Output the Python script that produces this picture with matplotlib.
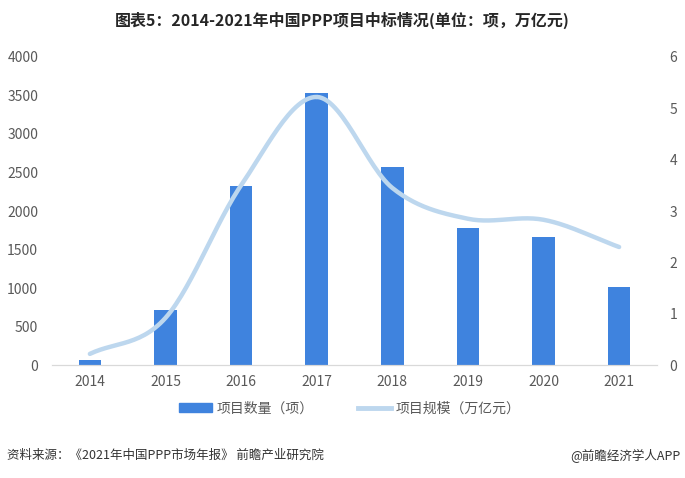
import numpy as np
import matplotlib.pyplot as plt
from matplotlib.lines import Line2D
from matplotlib.patches import Patch

plt.rcParams['font.family'] = ['Noto Sans CJK SC', 'DejaVu Sans']

# data
years = ["2014", "2015", "2016", "2017", "2018", "2019", "2020", "2021"]
counts = [65, 714, 2325, 3532, 2575, 1779, 1662, 1013]      # 项目数量（项）
scale = [0.22, 0.92, 3.5, 5.22, 3.45, 2.85, 2.83, 2.3]     # 项目规模（万亿元）

bar_color = "#3F83DE"
line_color = "#BDD7EE"
tick_color = "#595959"


def smooth(xs, ys, n=30):
    # Catmull-Rom curve through the points (like Excel's smoothed line)
    xs = np.asarray(xs, float)
    ys = np.asarray(ys, float)
    px = np.concatenate([[2 * xs[0] - xs[1]], xs, [2 * xs[-1] - xs[-2]]])
    py = np.concatenate([[2 * ys[0] - ys[1]], ys, [2 * ys[-1] - ys[-2]]])
    ox, oy = [], []
    t = np.linspace(0, 1, n)
    for i in range(1, len(px) - 2):
        for p, out in ((px, ox), (py, oy)):
            p0, p1, p2, p3 = p[i - 1], p[i], p[i + 1], p[i + 2]
            out.extend(0.5 * (2 * p1 + (-p0 + p2) * t
                              + (2 * p0 - 5 * p1 + 4 * p2 - p3) * t ** 2
                              + (-p0 + 3 * p1 - 3 * p2 + p3) * t ** 3))
    return np.array(ox), np.array(oy)


fig = plt.figure(figsize=(6.85, 4.78), dpi=100)
ax = fig.add_axes([0.076, 0.236, 0.883, 0.645])
x = np.arange(len(years))
ax.bar(x, counts, width=0.3, color=bar_color, zorder=2)
ax.set_xlim(-0.5, len(years) - 0.5)
ax.set_ylim(0, 4000)
ax.set_yticks(range(0, 4001, 500))
ax.set_xticks(x)
ax.set_xticklabels(years)

ax2 = ax.twinx()
sx, sy = smooth(x, scale)
ax2.plot(sx, sy, color=line_color, lw=3.2, solid_capstyle="round", zorder=3)
ax2.set_ylim(0, 6)
ax2.set_yticks(range(0, 7))

for a in (ax, ax2):
    for s in ("top", "left", "right"):
        a.spines[s].set_visible(False)
    a.spines["bottom"].set_color("#D9D9D9")
    a.tick_params(length=0, colors=tick_color, labelsize=10)
ax.tick_params(axis="y", pad=10)
ax2.tick_params(axis="y", pad=9)
ax.tick_params(axis="x", pad=7)

fig.text(0.5, 0.957, "图表5：2014-2021年中国PPP项目中标情况(单位：项，万亿元)",
         ha="center", va="center", fontsize=11.5, fontweight="bold", color="#262626")

handles = [Patch(color=bar_color), Line2D([0], [0], color=line_color, lw=3.5)]
fig.legend(handles, ["项目数量（项）", "项目规模（万亿元）"], loc="center",
           bbox_to_anchor=(0.51, 0.146), ncol=2, frameon=False, fontsize=10,
           handlelength=2.4, handleheight=0.6, handletextpad=0.3,
           columnspacing=3.2, labelcolor=tick_color)

fig.text(0.01, 0.047, "资料来源：《2021年中国PPP市场年报》 前瞻产业研究院",
         ha="left", va="center", fontsize=9, color="#333333")
fig.text(0.993, 0.047, "@前瞻经济学人APP", ha="right", va="center",
         fontsize=9, color="#333333")

fig.savefig("out.png", dpi=100)
